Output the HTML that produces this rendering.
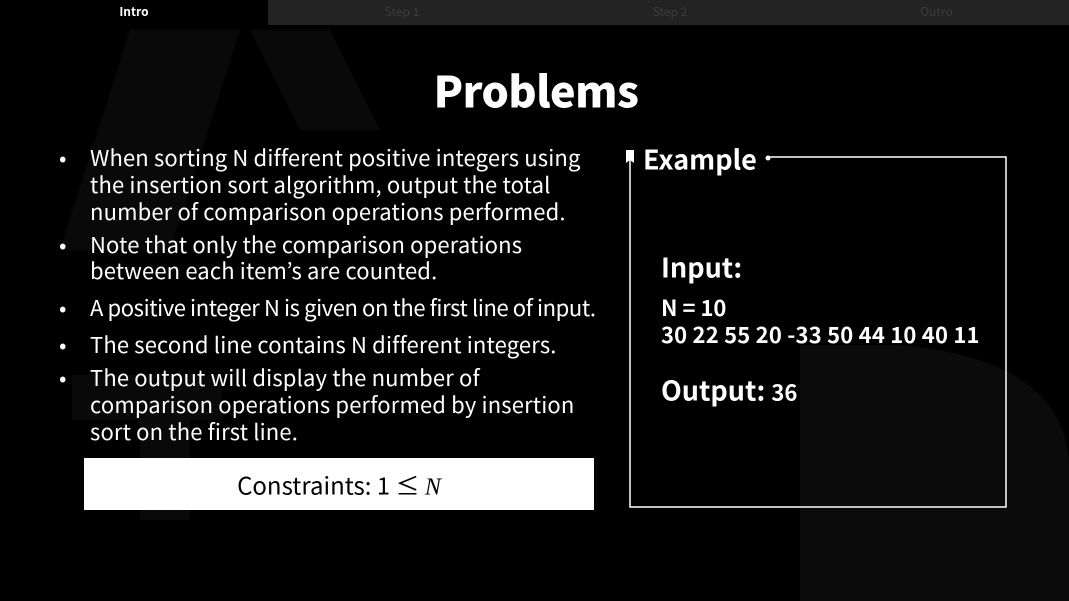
<!DOCTYPE html>
<html><head><meta charset="utf-8"><style>
*{margin:0;padding:0}
body{width:1069px;height:601px;background:#000;position:relative;overflow:hidden;font-family:"Noto Sans CJK JP","Liberation Sans",sans-serif;color:#fff}
.a{position:absolute;white-space:nowrap;line-height:1}
.t{font-size:22px;left:90px;transform:translateY(-50%);letter-spacing:0.15px}
.b{font-size:22px;left:59px;transform:translateY(-50%)}
</style></head><body>
<svg class="a" style="left:0;top:0" width="1069" height="601">
<polygon points="60,250 130,30 240,30 170,250" fill="#090909"/>
<polygon points="250,30 330,30 380,130 300,130" fill="#090909"/>
<rect x="72" y="375" width="150" height="45" fill="#090909"/>
<rect x="140" y="420" width="50" height="100" fill="#090909"/>
<path d="M800,345 L900,345 Q1069,360 1069,470 L1069,601 L800,601 Z" fill="#0b0b0b"/>
<rect x="0" y="0" width="1069" height="25" fill="#232323"/>
<rect x="0" y="0" width="268" height="25" fill="#000"/>
</svg>
<div class="a" style="left:0;width:268px;top:6px;text-align:center;font-size:12px;font-weight:bold">Intro</div>
<div class="a" style="left:268px;width:268px;top:6px;text-align:center;font-size:12px;color:#3c3c3c">Step 1</div>
<div class="a" style="left:536px;width:268px;top:6px;text-align:center;font-size:12px;color:#3c3c3c">Step 2</div>
<div class="a" style="left:804px;width:265px;top:6px;text-align:center;font-size:12px;color:#3c3c3c">Outro</div>
<div class="a" style="left:0;width:1072px;top:90px;transform:translateY(-50%);text-align:center;font-size:43px;font-weight:900;letter-spacing:-0.5px">Problems</div>
<div class="a b" style="top:157px">•</div><div class="a t" style="top:157px">When sorting N different positive integers using</div>
<div class="a t" style="top:184px">the insertion sort algorithm, output the total</div>
<div class="a t" style="top:211px">number of comparison operations performed.</div>
<div class="a b" style="top:244px">•</div><div class="a t" style="top:244px">Note that only the comparison operations</div>
<div class="a t" style="top:270px">between each item’s are counted.</div>
<div class="a b" style="top:307px">•</div><div class="a t" style="top:307px;letter-spacing:-0.4px">A positive integer N is given on the first line of input.</div>
<div class="a b" style="top:344px">•</div><div class="a t" style="top:344px">The second line contains N different integers.</div>
<div class="a b" style="top:377px">•</div><div class="a t" style="top:377px">The output will display the number of</div>
<div class="a t" style="top:404px">comparison operations performed by insertion</div>
<div class="a t" style="top:431px">sort on the first line.</div>
<div class="a" style="left:84px;top:458px;width:510px;height:52px;background:#fff"></div>
<div class="a" style="left:84px;width:510px;top:486px;transform:translateY(-50%);text-align:center;font-size:24px;color:#000">Constraints: 1 ≤ <i style="font-family:'Liberation Serif',serif">N</i></div>
<svg class="a" style="left:0;top:0" width="1069" height="601">
<path d="M768,157 H1006 V507 H630 V160" stroke="#fff" stroke-width="1.5" fill="none"/>
<circle cx="768" cy="158" r="2.5" fill="#fff"/>
<path d="M626,150 H634 V163 L630,160 L626,163 Z" fill="#fff"/>
</svg>
<div class="a" style="left:643px;top:158px;transform:translateY(-50%);font-size:27px;font-weight:bold">Example</div>
<div class="a" style="left:661px;top:266px;transform:translateY(-50%);font-size:27px;font-weight:bold">Input:</div>
<div class="a" style="left:661px;top:307px;transform:translateY(-50%);font-size:22px;font-weight:bold">N = 10</div>
<div class="a" style="left:661px;top:334px;transform:translateY(-50%);font-size:22px;font-weight:bold;letter-spacing:0.2px">30 22 55 20 -33 50 44 10 40 11</div>
<div class="a" style="left:661px;top:389px;transform:translateY(-50%);font-size:27px;font-weight:bold">Output: <span style="font-size:22px">36</span></div>
</body></html>
